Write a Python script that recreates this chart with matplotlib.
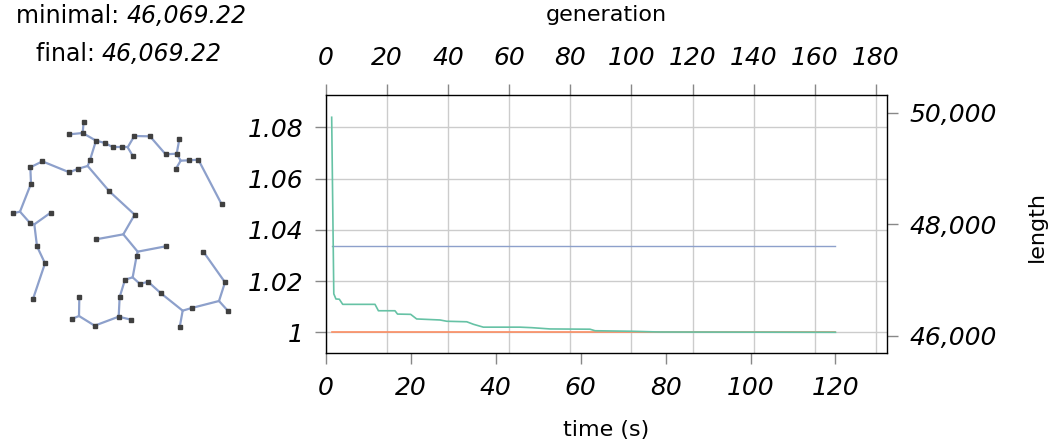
import matplotlib.pyplot as plt
from matplotlib.ticker import FuncFormatter

# ---- data ----
# best-so-far / current ratio (relative to minimal length) over time (s)
cur_t = [1.4, 1.9, 2.4, 3.2, 4.0, 11.6, 12.4, 16.3, 16.9, 20.0, 21.4, 26.9,
         28.5, 33.2, 34.8, 37.1, 45.7, 48.5, 52.8, 62.2, 63.4, 72.0, 78.7, 120.0]
cur_r = [1.0839, 1.0150, 1.0130, 1.0129, 1.0109, 1.0109, 1.0084, 1.0084,
         1.0071, 1.0070, 1.0052, 1.0048, 1.0043, 1.0041, 1.0031, 1.0020,
         1.0020, 1.0018, 1.0013, 1.0012, 1.0006, 1.0004, 1.0001, 1.0000]
min_t = [1.4, 120.0]
min_r = [1.0, 1.0]
ref_t = [1.4, 120.0]
ref_r = [1.0336, 1.0336]

time_ticks = [0, 20, 40, 60, 80, 100, 120]
gen_ticks = [0, 20, 40, 60, 80, 100, 120, 140, 160, 180]
ratio_ticks = [1.0, 1.02, 1.04, 1.06, 1.08]
length_ticks = [46000, 48000, 50000]

minimal_len = 46069.22
final_len = 46069.22

# tree drawn on the left (terminals, then steiner points)
node_x = [251, 208, 248, 288, 315, 339, 365, 398, 403, 450, 497, 538, 530, 528,
          568, 595, 665, 270, 235, 208, 127, 91, 93, 38, 90, 152, 111, 135, 99,
          328, 404, 288, 497, 410, 375, 420, 444, 359, 483, 575, 539, 610, 675,
          685, 238, 215, 284, 356, 393,
          383, 542, 263, 60, 103, 370, 413, 398, 548, 657, 237]
node_y = [95, 133, 129, 152, 159, 172, 172, 197, 138, 139, 193, 148, 191, 236,
          211, 209, 343, 210, 236, 247, 214, 232, 281, 370, 399, 368, 469, 520,
          627, 304, 374, 448, 469, 497, 569, 582, 575, 621, 610, 654, 712, 485,
          577, 664, 620, 687, 707, 680, 689,
          172, 212, 228, 365, 403, 433, 485, 562, 662, 633, 678]
n_terminals = 49
edges = [(0, 2), (1, 2), (2, 3), (3, 4), (4, 5), (5, 6), (6, 49), (49, 8),
         (49, 7), (8, 9), (9, 10), (10, 12), (11, 12), (12, 50), (50, 13),
         (50, 14), (14, 15), (15, 16), (3, 17), (17, 51), (51, 18), (18, 19),
         (19, 20), (20, 21), (21, 22), (22, 52), (52, 23), (52, 24), (24, 53),
         (53, 25), (53, 26), (26, 27), (27, 28), (51, 29), (29, 30), (30, 54),
         (54, 31), (54, 55), (55, 32), (55, 33), (33, 56), (56, 34), (56, 35),
         (35, 36), (36, 38), (38, 57), (57, 39), (57, 40), (39, 58), (58, 42),
         (58, 43), (42, 41), (34, 37), (37, 47), (47, 48), (47, 46), (46, 59),
         (59, 44), (59, 45)]

green = '#66c2a5'
orange = '#fc8d62'
blue = '#8da0cb'
tick_gray = '#888888'
grid_gray = '#cccccc'

fig = plt.figure(figsize=(10.61, 4.48), dpi=100)
pos = [0.307, 0.2114, 0.5289, 0.5766]

tick_kw = dict(direction='out', length=8, width=1, color=tick_gray, pad=8,
               labelsize=18)

# generation axis (top), carries the vertical grid
axg = fig.add_axes(pos)
axg.set_xlim(0, 183.6)
axg.set_xticks(gen_ticks)
axg.xaxis.tick_top()
axg.set_yticks([])
axg.tick_params(axis='x', **dict(tick_kw, pad=10))
axg.grid(axis='x', color=grid_gray, lw=1)
for s in axg.spines.values():
    s.set_visible(False)

# length axis (right)
axr = fig.add_axes(pos)
axr.patch.set_visible(False)
axr.set_ylim(45684, 50317)
axr.set_yticks(length_ticks)
axr.yaxis.tick_right()
axr.set_xticks([])
axr.tick_params(axis='y', **tick_kw)
axr.yaxis.set_major_formatter(FuncFormatter(lambda v, p: f'{v:,.0f}'))
for s in axr.spines.values():
    s.set_visible(False)

# main data axis: time (bottom), ratio (left)
ax = fig.add_axes(pos)
ax.patch.set_visible(False)
ax.set_xlim(0, 132.1)
ax.set_ylim(0.9918, 1.0926)
ax.set_xticks(time_ticks)
ax.set_yticks(ratio_ticks)
ax.yaxis.set_major_formatter(FuncFormatter(lambda v, p: f'{v:g}'))
ax.tick_params(**tick_kw)
ax.grid(axis='y', color=grid_gray, lw=1)
ax.set_axisbelow(True)
for s in ax.spines.values():
    s.set_color('black')
    s.set_linewidth(1)

for a in (ax, axg, axr):
    for lab in a.get_xticklabels() + a.get_yticklabels():
        lab.set_fontstyle('italic')

ax.plot(ref_t, ref_r, color=blue, lw=1)
ax.plot(min_t, min_r, color=orange, lw=1.2)
ax.plot(cur_t, cur_r, color=green, lw=1.2)

fig.text(606 / 1061, 1 - 15 / 448, 'generation', ha='center', va='center',
         fontsize=16)
fig.text(606 / 1061, 1 - 430 / 448, 'time (s)', ha='center', va='center',
         fontsize=16)
fig.text(1037 / 1061, 1 - 226 / 448, 'length', ha='center', va='center',
         fontsize=16, rotation=90)

# summary text top left
t1 = fig.text(247 / 1061, 1 - 16 / 448, f'{minimal_len:,.2f}', ha='right',
              va='center', fontsize=17, style='italic')
ax.annotate('minimal: ', xy=(0, 0.5), xycoords=t1, ha='right', va='center',
            fontsize=17)
t2 = fig.text(222 / 1061, 1 - 54 / 448, f'{final_len:,.2f}', ha='right',
              va='center', fontsize=17, style='italic')
ax.annotate('final: ', xy=(0, 0.5), xycoords=t2, ha='right', va='center',
            fontsize=17)

# tree inset
axt = fig.add_axes([0, 1 - 350 / 448, 240 / 1061, 260 / 448])
axt.set_xlim(0, 720)
axt.set_ylim(780, 0)
axt.axis('off')
for i, j in edges:
    axt.plot([node_x[i], node_x[j]], [node_y[i], node_y[j]], color=blue,
             lw=1.6, solid_capstyle='round')
axt.plot(node_x[:n_terminals], node_y[:n_terminals], 's', color='#404040',
         ms=3.4, ls='none')

fig.savefig('out.png', dpi=100)
